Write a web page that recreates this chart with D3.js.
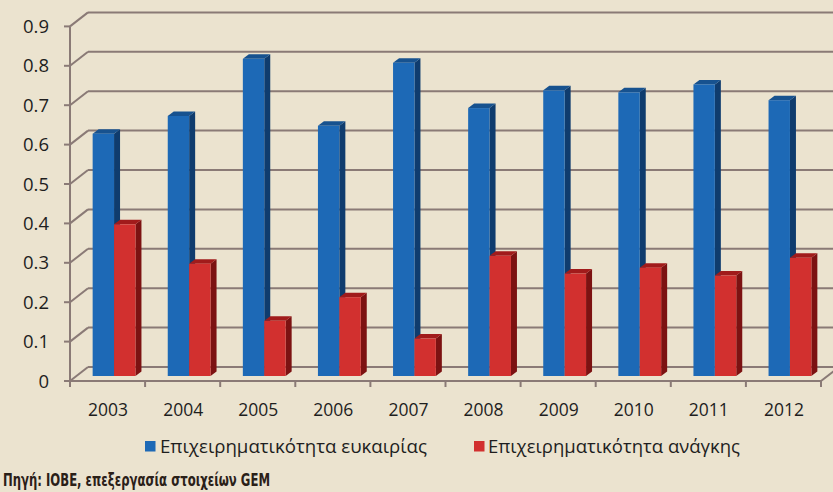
<!DOCTYPE html>
<html><head><meta charset="utf-8">
<script src="https://cdn.jsdelivr.net/npm/d3@7"></script>
<style>
html,body{margin:0;padding:0;background:#ebe3cf;}
svg{display:block;}
</style></head>
<body>
<svg id="chart" width="833" height="492"></svg>
<script>
const years = ["2003","2004","2005","2006","2007","2008","2009","2010","2011","2012"];
const opportunity = [0.615, 0.66, 0.805, 0.635, 0.795, 0.68, 0.725, 0.72, 0.74, 0.70];
const necessity = [0.385, 0.285, 0.14, 0.20, 0.095, 0.305, 0.26, 0.275, 0.255, 0.30];
const seriesNames = ["Επιχειρηματικότητα ευκαιρίας", "Επιχειρηματικότητα ανάγκης"];
const yTicks = [0, 0.1, 0.2, 0.3, 0.4, 0.5, 0.6, 0.7, 0.8, 0.9];
const sourceText = "Πηγή: ΙΟΒΕ, επεξεργασία στοιχείων GEM";

const svg = d3.select("#chart");
const W = 833, H = 492;
svg.append("rect").attr("width", W).attr("height", H).attr("fill", "#ebe3cf");

const x = d3.scaleBand().domain(years).range([70, 821]).paddingInner(0.43).paddingOuter(0.215);
const xFull = d3.scaleBand().domain(years).range([70, 821]);
const y = d3.scaleLinear().domain([0, 0.9]).range([381, 26.4]);
const sub = d3.scaleBand().domain([0, 1]).range([0, x.bandwidth()]);

const depth = {dx: 18, dy: -14};
const barShift = {dx: 6.5, dy: -5};
const barDepth = {dx: 6, dy: -4.5};

const gridColor = "#8a7a76";
const g = svg.append("g");
const font = "'Open Sans', sans-serif";

yTicks.forEach(v => {
  g.append("line")
    .attr("x1", 70 + depth.dx).attr("y1", y(v) + depth.dy)
    .attr("x2", W + 5).attr("y2", y(v) + depth.dy)
    .attr("stroke", gridColor).attr("stroke-width", 2);
  g.append("line")
    .attr("x1", 70).attr("y1", y(v))
    .attr("x2", 70 + depth.dx).attr("y2", y(v) + depth.dy)
    .attr("stroke", gridColor).attr("stroke-width", 2);
});

g.append("line").attr("x1", 70).attr("y1", y(0)).attr("x2", 821).attr("y2", y(0))
  .attr("stroke", gridColor).attr("stroke-width", 2);
g.append("line").attr("x1", 821).attr("y1", y(0)).attr("x2", 821 + depth.dx).attr("y2", y(0) + depth.dy)
  .attr("stroke", gridColor).attr("stroke-width", 2);
g.append("line").attr("x1", 70).attr("y1", y(0.9)).attr("x2", 70).attr("y2", y(0))
  .attr("stroke", gridColor).attr("stroke-width", 2);

yTicks.forEach(v => {
  g.append("line").attr("x1", 64).attr("y1", y(v)).attr("x2", 70).attr("y2", y(v))
    .attr("stroke", gridColor).attr("stroke-width", 2);
  g.append("text").attr("x", 49).attr("y", y(v)).attr("dy", "0.36em")
    .attr("text-anchor", "end")
    .attr("font-family", font).attr("font-size", 18.5)
    .attr("fill", "#1e1e1e").text(v === 0 ? "0" : d3.format(".1f")(v));
});

const boundaries = years.map(d => xFull(d)).concat([821]);
boundaries.forEach(bx => {
  g.append("line").attr("x1", bx).attr("y1", y(0)).attr("x2", bx).attr("y2", y(0) + 6)
    .attr("stroke", gridColor).attr("stroke-width", 2);
});

years.forEach(d => {
  g.append("text").attr("x", x(d) + x.bandwidth() / 2 + 0.5).attr("y", 416)
    .attr("text-anchor", "middle")
    .attr("font-family", font).attr("font-size", 17.5)
    .attr("textLength", 40).attr("lengthAdjust", "spacingAndGlyphs")
    .attr("fill", "#1e1e1e").text(d);
});

const palettes = [
  {front: "#1d69b6", side: "#0f3c6e", top: "#17528f"},
  {front: "#d2302f", side: "#7c1212", top: "#a11b1b"}
];
const seriesData = [opportunity, necessity];

function drawBar(x0, v, pal) {
  const w = sub.bandwidth();
  const fx = x0 + barShift.dx, by = y(0) + barShift.dy, ty = y(v) + barShift.dy;
  const bg = g.append("g");
  bg.append("polygon").attr("points", [
    [fx + w, ty], [fx + w + barDepth.dx, ty + barDepth.dy],
    [fx + w + barDepth.dx, by + barDepth.dy], [fx + w, by]
  ].map(p => p.join(",")).join(" ")).attr("fill", pal.side);
  bg.append("polygon").attr("points", [
    [fx, ty], [fx + barDepth.dx, ty + barDepth.dy],
    [fx + w + barDepth.dx, ty + barDepth.dy], [fx + w, ty]
  ].map(p => p.join(",")).join(" ")).attr("fill", pal.top);
  bg.append("rect").attr("x", fx).attr("y", ty).attr("width", w).attr("height", by - ty)
    .attr("fill", pal.front);
}

years.forEach((d, i) => {
  [0, 1].forEach(s => drawBar(x(d) + sub(s), seriesData[s][i], palettes[s]));
});

const legend = [
  {sx: 145, tx: 160, len: 267},
  {sx: 474, tx: 488, len: 252}
];
legend.forEach((l, s) => {
  g.append("rect").attr("x", l.sx).attr("y", 441).attr("width", 10.5).attr("height", 10.5)
    .attr("fill", palettes[s].front);
  g.append("text").attr("x", l.tx).attr("y", 453)
    .attr("font-family", font).attr("font-size", 17.5)
    .attr("textLength", l.len).attr("lengthAdjust", "spacingAndGlyphs")
    .attr("fill", "#1e1e1e").text(seriesNames[s]);
});

g.append("text").attr("x", 3).attr("y", 486)
  .attr("font-family", "'DejaVu Sans', sans-serif").attr("font-weight", "bold")
  .attr("font-stretch", "condensed").attr("font-size", 17)
  .attr("textLength", 267).attr("lengthAdjust", "spacingAndGlyphs")
  .attr("fill", "#2a2018").text(sourceText);
</script>
</body></html>
